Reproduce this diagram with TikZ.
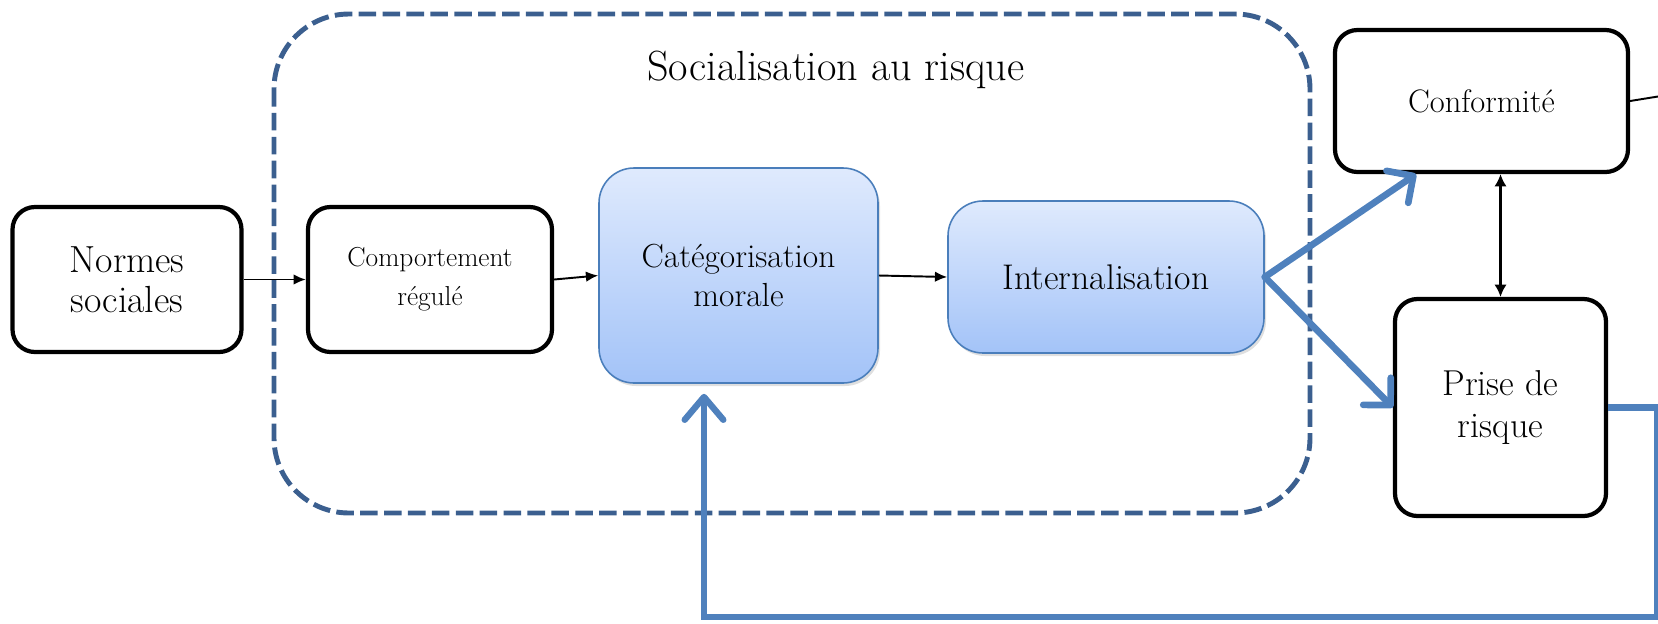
\documentclass[tikz,border=0pt]{standalone}
\usepackage{fontspec}
\usetikzlibrary{arrows.meta,positioning,calc,shadows}

\definecolor{framedark}{HTML}{3B5F8F}
\definecolor{linkblue}{HTML}{4F81BD}
\definecolor{boxtop}{HTML}{DFEAFD}
\definecolor{boxbottom}{HTML}{A3C3F8}
\definecolor{boxedge}{HTML}{4A7EBB}

\tikzset{
  plainbox/.style={draw,line width=2.4pt,rounded corners=0.45cm,align=center,inner sep=0pt},
  shadedbox/.style={draw=boxedge,line width=0.9pt,rounded corners=0.7cm,top color=boxtop,bottom color=boxbottom,
    align=center,inner sep=0pt,drop shadow={shadow xshift=0.04cm,shadow yshift=-0.06cm,opacity=0.25}},
  flow/.style={line width=1.1pt,-{Latex[length=7pt,width=6pt]}},
  thickflow/.style={linkblue,line width=3.8pt,line cap=round,-{Straight Barb[length=11pt,width=22pt,round]}},
}

\begin{document}
\begin{tikzpicture}
  \useasboundingbox (0,0) rectangle (33.16,-12.46);
  % frame of the socialisation phase
  \draw[framedark,line width=2.8pt,dash pattern=on 10pt off 3.6pt,rounded corners=1.5cm]
    (5.48,-0.28) rectangle (26.2,-10.26);
  \node[anchor=base,font=\fontsize{24}{28}\selectfont] (title) at (16.72,-1.6) {Socialisation au risque};

  % boxes
  \node[plainbox,minimum width=4.58cm,minimum height=2.9cm,font=\fontsize{21.5}{22.5}\selectfont]
    (normes) at (2.54,-5.59) {Normes\\sociales};
  \node[plainbox,minimum width=4.88cm,minimum height=2.9cm,font=\fontsize{15.6}{22}\selectfont]
    (comport) at (8.6,-5.59) {Comportement\\régulé};
  \node[shadedbox,minimum width=5.58cm,minimum height=4.3cm,font=\fontsize{19}{22.7}\selectfont]
    (categ) at (14.77,-5.51) {Catégorisation\\morale};
  \node[shadedbox,minimum width=6.32cm,minimum height=3.04cm,font=\fontsize{20.3}{24}\selectfont]
    (intern) at (22.12,-5.54) {Internalisation};
  \node[plainbox,minimum width=5.86cm,minimum height=2.84cm,font=\fontsize{18.5}{22}\selectfont]
    (conf) at (29.63,-2.02) {Conformité};
  \node[plainbox,minimum width=4.22cm,minimum height=4.34cm,font=\fontsize{20.5}{23.8}\selectfont]
    (prise) at (30.01,-8.15) {Prise de\\risque};

  % black links
  \draw[flow] (normes.east) -- (comport.west);
  \draw[flow] (comport.east) -- (categ.west);
  \draw[flow] (categ.east) -- (intern.west);
  \draw[line width=1.2pt,{Latex[length=7pt,width=7pt]}-{Latex[length=7pt,width=7pt]}]
    (conf.south -| prise.north) -- (prise.north);
  \coordinate (confout) at (33.16,-1.93);
  \draw[line width=1.1pt] (conf.east) -- (confout);

  % blue links
  \draw[thickflow] (intern.east) -- ($(conf.south west)!0.28!(conf.south east)$);
  \draw[thickflow] (intern.east) -- (prise.west);
  \coordinate (loopr) at (33.14,-12.34);
  \draw[linkblue,line width=3.6pt,-{Straight Barb[length=13pt,width=22pt,round]}]
    (prise.east) -| (loopr) -| ([xshift=-0.69cm,yshift=-0.2cm]categ.south);
\end{tikzpicture}
\end{document}
